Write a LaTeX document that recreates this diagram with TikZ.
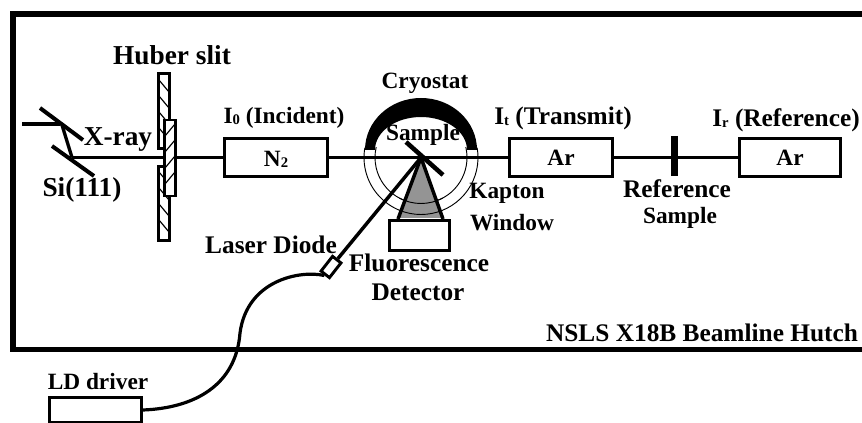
\documentclass[tikz,border=0pt]{standalone}
\usepackage{fontspec}
\setmainfont{Liberation Serif}
\newcommand{\sbs}[1]{\raisebox{-0.05em}{\fontsize{11}{12}\selectfont #1}}
\tikzset{
 lab/.style={font=\bfseries\fontsize{20.5}{22}\selectfont,inner sep=0pt,text=black},
 labt/.style={font=\bfseries\fontsize{17.5}{19}\selectfont,inner sep=0pt,text=black},
 labu/.style={font=\bfseries\fontsize{19}{21}\selectfont,inner sep=0pt,text=black},
 boxn/.style={draw=black,line width=2.2pt,fill=white,inner sep=0pt},
 beam/.style={line width=2.5pt,black},
 frame/.style={line width=4.4pt,black},
 crystal/.style={line width=3pt,black},
 hatchbox/.style={draw=black,line width=2.2pt,fill=white,inner sep=0pt,minimum width=8pt,minimum height=56pt},
 hatchline/.style={line width=0.9pt,black},
 thinarc/.style={line width=0.7pt,black},
}
\begin{document}
\begin{tikzpicture}[x=0.75pt,y=-0.75pt]
\useasboundingbox (0,0) rectangle (862,423);
\fill[white] (0,0) rectangle (862,423);
% hutch frame
\draw[frame] (862,14) -- (13,14) -- (13,349.5) -- (862,349.5);
% named points
\coordinate (in) at (22,124);
\coordinate (c1) at (60,124);
\coordinate (c1b) at (62,125);
\coordinate (c2) at (72,157.5);
\coordinate (cc) at (421,157.5);
% kapton arcs
\draw[thinarc] (cc) ++(-13:46) arc (-13:193:46);
\draw[thinarc] (cc) ++(-10:57) arc (-10:190:57);
% detector cone
\fill[black!42] (cc) -- (398,218) -- (443,218) -- cycle;
\draw[thinarc] (cc) ++(62:46) arc (62:118:46);
\draw[thinarc] (cc) ++(68:57) arc (68:112:57);
% boxes
\node[boxn,minimum width=77pt,minimum height=29pt] (n2) at (276,157.5) {};
\node[boxn,minimum width=77pt,minimum height=29pt] (ar1) at (561,157.5) {};
\node[boxn,minimum width=76pt,minimum height=29pt] (ar2) at (790,157.5) {};
\node[boxn,minimum width=45pt,minimum height=23pt] (det) at (419.5,235.5) {};
\node[boxn,minimum width=69pt,minimum height=19pt] (drv) at (95.5,410) {};
% beam
\draw[beam] (in) -- (c1);
\draw[beam] (c1b) -- (c2);
\draw[beam] (c2) -- (n2);
\draw[beam] (n2) -- (ar1);
\draw[beam] (ar1) -- (ar2);
% box text
\node[labt] at (276,159) {N\sbs{2}};
\node[labt] at (ar1) {Ar};
\node[labt] at (ar2) {Ar};
% crystals
\draw[crystal] (40,108) -- (83,140);
\draw[crystal] (52,146) -- (94,176);
% slit
\node[hatchbox] (s1) at (164,111) {};
\node[hatchbox] (s2) at (164,203.5) {};
\foreach \yy in {80,96,112,128,172,188,204,220}{\draw[hatchline] (159,\yy) -- (169,\yy+12);}
\node[hatchbox,minimum height=57pt] (s3) at (170,158) {};
\foreach \yy in {124,140,156,172}{\draw[hatchline] (175,\yy) -- (165,\yy+12);}
% reference sample
\draw[line width=5.2pt] (674.5,136) -- (674.5,176);
% cone edges
\draw[line width=2.6pt] (cc) -- (398,219);
\draw[line width=2.6pt] (cc) -- (443,219);
% cryostat
\fill[black] (365,150) arc (180:360:56 and 52) -- (467,150) arc (360:180:46 and 33) -- cycle;
% laser and diode
\node[draw=black,line width=2.2pt,fill=white,inner sep=0pt,minimum width=14pt,minimum height=8pt,rotate=52] (ld) at (331,267) {};
\draw[line width=2.6pt] (cc) -- (ld);
% sample mirror
\draw[line width=3.4pt] (406,142) -- (443,175);
% cable
\draw[line width=2.4pt] (ld.west) .. controls (300,270) and (247,280) .. (240,333) .. controls (236,385) and (195,408) .. (drv.east);
% labels
\node[lab] (huber) at (172,55) {Huber slit};
\node[lab] (xray) at (118,140) {X-ray};
\node[lab] (si) at (82,190) {Si(111)};
\node[labt] (i0) at (284,118) {I\sbs{0} (Incident)};
\node[labu] (it) at (563,118) {I\sbs{t} (Transmit)};
\node[labu] (ir) at (786,120) {I\sbs{r} (Reference)};
\node[labt] (cry) at (425,83) {Cryostat};
\node[labt] (smp) at (423,135) {Sample};
\node[labt] (kap) at (507,193) {Kapton};
\node[labt] (win) at (512,223) {Window};
\node[labu] (las) at (271,245) {Laser Diode};
\node[labu] (flu) at (419,263) {Fluorescence};
\node[labu] (dtc) at (418,292) {Detector};
\node[labu] (rf) at (677,189) {Reference};
\node[labt] (rs) at (680,218) {Sample};
\node[labu] (nsls) at (702,333) {NSLS X18B Beamline Hutch};
\node[labt] (ldd) at (98,382) {LD driver};
\end{tikzpicture}
\end{document}
